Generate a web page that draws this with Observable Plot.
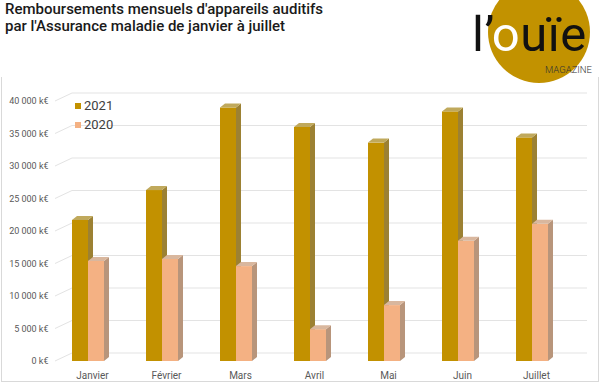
<!DOCTYPE html>
<html><head><meta charset="utf-8">
<script src="https://cdn.jsdelivr.net/npm/d3@7"></script>
<script src="https://cdn.jsdelivr.net/npm/@observablehq/plot@0.6"></script>
<style>
html,body{margin:0;padding:0;background:#fff;}
#wrap{position:relative;width:600px;height:384px;overflow:hidden;font-family:Roboto,sans-serif;}
#title{position:absolute;left:5px;top:1px;font-size:15px;font-weight:500;line-height:17px;color:#1a1a1a;z-index:3;}
#panel{position:absolute;left:1px;top:77px;width:596px;height:304px;border-left:1px solid #d9d9d9;border-right:1px solid #d9d9d9;border-bottom:1px solid #d9d9d9;z-index:0;}
#chart{position:absolute;left:0;top:0;z-index:1;}
#logo{position:absolute;left:0;top:0;width:600px;height:90px;z-index:2;pointer-events:none;}
#legend{position:absolute;left:75px;top:96px;z-index:3;font-size:13px;color:#404040;line-height:19px;}
#legend .sw{display:inline-block;width:6px;height:6px;margin-right:3px;vertical-align:1px;}
</style></head>
<body>
<div id="wrap">
  <div id="panel"></div>
  <div id="chart"></div>
  <svg id="logo" width="600" height="90">
    <circle cx="539" cy="32" r="51" fill="#c29200"></circle>
    <text x="472" y="51" font-family="Roboto" font-weight="400" font-size="49" letter-spacing="0.5"><tspan fill="#111">l’</tspan><tspan fill="#fff">o</tspan><tspan fill="#111">uïe</tspan></text>
    <text x="545" y="73" font-family="Roboto" font-weight="300" font-size="9.5" fill="#333">MAGAZINE</text>
  </svg>
  <div id="title">Remboursements mensuels d'appareils auditifs<br>par l'Assurance maladie de janvier à juillet</div>
  <div id="legend"></div>
</div>
<script>
const months = ["Janvier", "Février", "Mars", "Avril", "Mai", "Juin", "Juillet"];
const seriesNames = ["2021", "2020"];
const values2021 = [21700, 26300, 39000, 36000, 33600, 38400, 34400];
const values2020 = [15400, 15700, 14600, 4900, 8600, 18500, 21100];
const yTicks = [0, 5000, 10000, 15000, 20000, 25000, 30000, 35000, 40000];
const yTickLabels = ["0 k€", "5 000 k€", "10 000 k€", "15 000 k€", "20 000 k€", "25 000 k€", "30 000 k€", "35 000 k€", "40 000 k€"];

const colors = {
  "2021": {front: "#c29100", side: "#9c8133", top: "#c0a95c"},
  "2020": {front: "#f4b183", side: "#b8957b", top: "#d9b79e"}
};

const rows2021 = months.map((m, i) => ({month: m, value: values2021[i]}));
const rows2020 = months.map((m, i) => ({month: m, value: values2020[i]}));

const PI = 0.784, PO = 0.392;
const DEPTH_X = 5, DEPTH_Y = 4;
const WALL_X = 17, WALL_Y = 8;

function bandwidthOf(sx, dims) {
  if (typeof sx.bandwidth === "function") return sx.bandwidth();
  if (typeof sx.bandwidth === "number") return sx.bandwidth;
  const w = dims.width - dims.marginLeft - dims.marginRight;
  const step = w / (months.length - PI + 2 * PO);
  return step * (1 - PI);
}

function gridMark(index, scales, values, dims) {
  const g = d3.create("svg:g").attr("stroke", "#e3e3e3").attr("stroke-width", 1).attr("fill", "none");
  const left = dims.marginLeft + 4;
  const right = dims.width - dims.marginRight + 18;
  for (const t of yTicks) {
    const y = scales.y(t);
    g.append("line").attr("x1", left).attr("y1", y).attr("x2", left + WALL_X).attr("y2", y - WALL_Y);
    g.append("line").attr("x1", left + WALL_X).attr("y1", y - WALL_Y).attr("x2", right).attr("y2", y - WALL_Y);
  }
  return g.node();
}

function facesMark(rows, name, offset) {
  return (index, scales, values, dims) => {
    const g = d3.create("svg:g");
    const sx = scales.x, sy = scales.y;
    const bw = bandwidthOf(sx, dims);
    const c = colors[name];
    for (const r of rows) {
      const x0 = sx(r.month) + offset;
      const x1 = x0 + bw;
      const yt = sy(r.value), yb = sy(0);
      g.append("path").attr("fill", c.side)
        .attr("d", `M${x1},${yt}L${x1 + DEPTH_X},${yt - DEPTH_Y}L${x1 + DEPTH_X},${yb - DEPTH_Y}L${x1},${yb}Z`);
      g.append("path").attr("fill", c.top)
        .attr("d", `M${x0},${yt}L${x0 + DEPTH_X},${yt - DEPTH_Y}L${x1 + DEPTH_X},${yt - DEPTH_Y}L${x1},${yt}Z`);
    }
    return g.node();
  };
}

const chart = Plot.plot({
  width: 600,
  height: 384,
  marginTop: 101,
  marginBottom: 23,
  marginLeft: 51,
  marginRight: 31,
  style: {fontFamily: "Roboto, sans-serif", background: "transparent", overflow: "visible"},
  x: {domain: months, paddingInner: PI, paddingOuter: PO, axis: null},
  y: {domain: [0, 40000], axis: null},
  marks: [
    gridMark,
    Plot.text(yTicks, {y: d => d, text: (d, i) => yTickLabels[i], frameAnchor: "left", textAnchor: "end", dx: -3, fontSize: 9, fill: "#595959"}),
    Plot.text(months, {x: d => d, y: () => 0, text: d => d, dx: 4, dy: 14, fontSize: 10, fill: "#595959"}),
    Plot.barY(rows2021, {x: "month", y: "value", fill: colors["2021"].front, dx: -8}),
    facesMark(rows2021, "2021", -8),
    Plot.barY(rows2020, {x: "month", y: "value", fill: colors["2020"].front, dx: 8}),
    facesMark(rows2020, "2020", 8)
  ]
});
document.getElementById("chart").appendChild(chart);

const legend = document.getElementById("legend");
for (const n of seriesNames) {
  const row = document.createElement("div");
  const sw = document.createElement("span");
  sw.className = "sw";
  sw.style.background = colors[n].front;
  row.appendChild(sw);
  row.appendChild(document.createTextNode(n));
  legend.appendChild(row);
}
</script>
</body></html>
